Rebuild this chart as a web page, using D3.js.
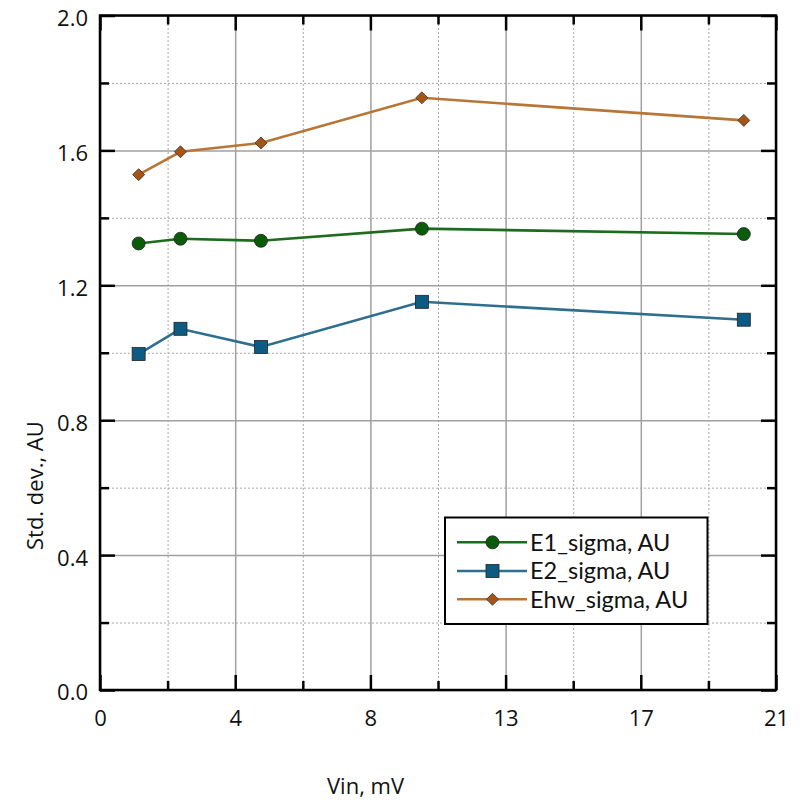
<!DOCTYPE html>
<html>
<head>
<meta charset="utf-8">
<script src="https://cdn.jsdelivr.net/npm/d3@7"></script>
<style>
  html, body { margin: 0; padding: 0; background: #fff; }
  svg text { font-family: "Open Sans", "Noto Sans", sans-serif; fill: #111; }
  svg text.legend-label { font-family: Lato, "Open Sans", sans-serif; }
</style>
</head>
<body>
<svg id="chart" width="800" height="800"></svg>
<script>
// Input voltage (mV)
const vin = [1.2, 2.5, 5, 10, 20];

// Standard deviations (AU) per series
const e1Sigma  = [1.324, 1.338, 1.332, 1.368, 1.352];
const e2Sigma  = [0.996, 1.071, 1.017, 1.151, 1.098];
const ehwSigma = [1.528, 1.596, 1.622, 1.756, 1.689];

const seriesNames = ["E1_sigma, AU", "E2_sigma, AU", "Ehw_sigma, AU"];

// Axis ticks
const xTicks = [0, 4.2, 8.4, 12.6, 16.8, 21];
const xMinorTicks = [2.1, 6.3, 10.5, 14.7, 18.9];
const yTicks = [0, 0.4, 0.8, 1.2, 1.6, 2.0];
const yMinorTicks = [0.2, 0.6, 1.0, 1.4, 1.8];

const xTitle = "Vin, mV";
const yTitle = "Std. dev., AU";

const styles = [
  { line: "#1d6b1d", fill: "#0a5c0a", marker: "circle" },
  { line: "#2e6e8e", fill: "#0d5a82", marker: "square" },
  { line: "#b77638", fill: "#a55414", marker: "diamond" }
];

const svg = d3.select("#chart");
const plotL = 100, plotR = 776, plotT = 15.5, plotB = 690;

const x = d3.scaleLinear().domain([0, 21]).range([plotL, plotR]);
const y = d3.scaleLinear().domain([0, 2]).range([plotB, plotT]);

const W = plotR - plotL, H = plotB - plotT;

// Minor grid (dotted)
svg.append("g")
  .attr("transform", `translate(0,${plotB})`)
  .call(d3.axisBottom(x).tickValues(xMinorTicks).tickSize(-H).tickFormat(""))
  .call(g => g.select(".domain").remove())
  .call(g => g.selectAll("line").attr("stroke", "#a8a8a8").attr("stroke-width", 1).attr("stroke-dasharray", "2,2"));
svg.append("g")
  .attr("transform", `translate(${plotL},0)`)
  .call(d3.axisLeft(y).tickValues(yMinorTicks).tickSize(-W).tickFormat(""))
  .call(g => g.select(".domain").remove())
  .call(g => g.selectAll("line").attr("stroke", "#a8a8a8").attr("stroke-width", 1).attr("stroke-dasharray", "2,2"));

// Major grid (solid)
svg.append("g")
  .attr("transform", `translate(0,${plotB})`)
  .call(d3.axisBottom(x).tickValues(xTicks).tickSize(-H).tickFormat(""))
  .call(g => g.select(".domain").remove())
  .call(g => g.selectAll("line").attr("stroke", "#a0a0a0").attr("stroke-width", 1.5));
svg.append("g")
  .attr("transform", `translate(${plotL},0)`)
  .call(d3.axisLeft(y).tickValues(yTicks).tickSize(-W).tickFormat(""))
  .call(g => g.select(".domain").remove())
  .call(g => g.selectAll("line").attr("stroke", "#a0a0a0").attr("stroke-width", 1.5));

// Series
const allSeries = [e1Sigma, e2Sigma, ehwSigma];
const line = d3.line().x((d, i) => x(vin[i])).y(d => y(d));

function drawMarker(g, type, cx, cy, fill) {
  if (type === "circle") {
    g.append("circle").attr("cx", cx).attr("cy", cy).attr("r", 6.5)
      .attr("fill", fill).attr("stroke", "#222").attr("stroke-width", 0.8);
  } else if (type === "square") {
    g.append("rect").attr("x", cx - 6.5).attr("y", cy - 6.5).attr("width", 13).attr("height", 13)
      .attr("fill", fill).attr("stroke", "#222").attr("stroke-width", 0.8);
  } else {
    const s = 6;
    g.append("path").attr("d", `M${cx},${cy - s}L${cx + s},${cy}L${cx},${cy + s}L${cx - s},${cy}Z`)
      .attr("fill", fill).attr("stroke", "#333").attr("stroke-width", 0.8);
  }
}

allSeries.forEach((vals, k) => {
  svg.append("path").datum(vals)
    .attr("d", line).attr("fill", "none")
    .attr("stroke", styles[k].line).attr("stroke-width", 2.6);
  const mg = svg.append("g");
  vals.forEach((v, i) => drawMarker(mg, styles[k].marker, x(vin[i]), y(v), styles[k].fill));
});

// Frame
svg.append("rect").attr("x", plotL).attr("y", plotT).attr("width", W).attr("height", H)
  .attr("fill", "none").attr("stroke", "#000").attr("stroke-width", 2.5);

// Tick marks (inward, all four sides) and labels
function styleTicks(g) {
  g.select(".domain").remove();
  g.selectAll("line").attr("stroke", "#000").attr("stroke-width", 2.5);
}
const majorLen = 15, minorLen = 9;

svg.append("g").attr("transform", `translate(0,${plotB})`)
  .call(d3.axisBottom(x).tickValues(xTicks).tickSizeInner(-majorLen).tickSizeOuter(0)
    .tickPadding(20).tickFormat(d3.format(".0f")))
  .call(styleTicks)
  .call(g => g.selectAll("text").attr("font-size", 22).attr("fill", "#111"));
svg.append("g").attr("transform", `translate(0,${plotB})`)
  .call(d3.axisBottom(x).tickValues(xMinorTicks).tickSizeInner(-minorLen).tickSizeOuter(0).tickFormat(""))
  .call(styleTicks);
svg.append("g").attr("transform", `translate(0,${plotT})`)
  .call(d3.axisTop(x).tickValues(xTicks).tickSizeInner(-majorLen).tickSizeOuter(0).tickFormat(""))
  .call(styleTicks);
svg.append("g").attr("transform", `translate(0,${plotT})`)
  .call(d3.axisTop(x).tickValues(xMinorTicks).tickSizeInner(-minorLen).tickSizeOuter(0).tickFormat(""))
  .call(styleTicks);

svg.append("g").attr("transform", `translate(${plotL},0)`)
  .call(d3.axisLeft(y).tickValues(yTicks).tickSizeInner(-majorLen).tickSizeOuter(0)
    .tickPadding(12).tickFormat(d3.format(".1f")))
  .call(styleTicks)
  .call(g => g.selectAll("text").attr("font-size", 22).attr("dy", "0.45em").attr("fill", "#111"));
svg.append("g").attr("transform", `translate(${plotL},0)`)
  .call(d3.axisLeft(y).tickValues(yMinorTicks).tickSizeInner(-minorLen).tickSizeOuter(0).tickFormat(""))
  .call(styleTicks);
svg.append("g").attr("transform", `translate(${plotR},0)`)
  .call(d3.axisRight(y).tickValues(yTicks).tickSizeInner(-majorLen).tickSizeOuter(0).tickFormat(""))
  .call(styleTicks);
svg.append("g").attr("transform", `translate(${plotR},0)`)
  .call(d3.axisRight(y).tickValues(yMinorTicks).tickSizeInner(-minorLen).tickSizeOuter(0).tickFormat(""))
  .call(styleTicks);

// Axis titles
svg.append("text").attr("x", 327).attr("y", 794)
  .attr("font-size", 22).text(xTitle);
svg.append("text")
  .attr("transform", "translate(43,550) rotate(-90)")
  .attr("font-size", 22).text(yTitle);

// Legend
const lg = svg.append("g");
lg.append("rect").attr("x", 445).attr("y", 517.5).attr("width", 262.5).attr("height", 106.5)
  .attr("fill", "#fff").attr("stroke", "#000").attr("stroke-width", 2);
const rowY = [542.3, 571, 599.3];
seriesNames.forEach((name, k) => {
  const ry = rowY[k];
  lg.append("line").attr("x1", 457).attr("x2", 527).attr("y1", ry).attr("y2", ry)
    .attr("stroke", styles[k].line).attr("stroke-width", 2.6);
  drawMarker(lg, styles[k].marker, 492.5, ry, styles[k].fill);
  lg.append("text").attr("class", "legend-label")
    .attr("x", 530).attr("y", ry).attr("dy", "0.36em")
    .attr("font-size", 23.5).text(name);
});
</script>
</body>
</html>
